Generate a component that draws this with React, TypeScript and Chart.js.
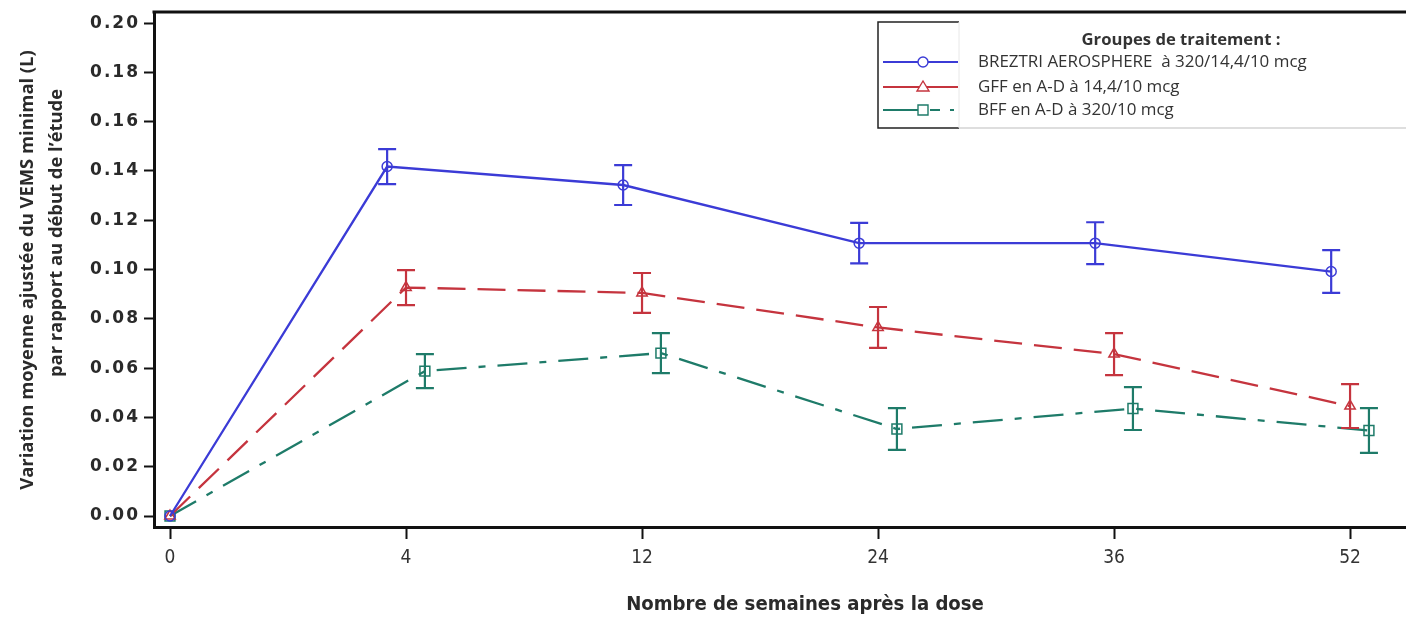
import React, { useEffect, useRef } from 'react';
import { Chart, registerables, LinearScale } from 'chart.js';

// ---------- DATA ----------
const weekLabels = ['0', '4', '12', '24', '36', '52'];
const yTickValues = [0, 0.02, 0.04, 0.06, 0.08, 0.1, 0.12, 0.14, 0.16, 0.18, 0.2];

const seriesNames = [
  'BREZTRI AEROSPHERE  à 320/14,4/10 mcg',
  'GFF en A-D à 14,4/10 mcg',
  'BFF en A-D à 320/10 mcg',
];
const legendTitle = 'Groupes de traitement :';
const yTitleLine1 = 'Variation moyenne ajustée du VEMS minimal (L)';
const yTitleLine2 = 'par rapport au début de l\u2019étude';
const xTitle = 'Nombre de semaines après la dose';

const breztriMean = [0, 0.1418, 0.1343, 0.1107, 0.1107, 0.0992];
const breztriErr = [0, 0.0071, 0.0081, 0.0082, 0.0085, 0.0087];
const gffMean = [0, 0.0927, 0.0905, 0.0765, 0.0657, 0.0446];
const gffErr = [0, 0.0071, 0.0081, 0.0083, 0.0085, 0.0089];
const bffMean = [0, 0.0588, 0.0661, 0.0353, 0.0436, 0.0347];
const bffErr = [0, 0.0069, 0.0081, 0.0085, 0.0087, 0.0091];

// ---------- STYLE ----------
const BLUE = '#3b3bd6';
const RED = '#c5343e';
const GREEN = '#1e7b69';
const seriesColors = [BLUE, RED, GREEN];
const seriesOffsets = [-0.08, 0, 0.08];
const seriesDashes: number[][] = [[], [28, 12], [30, 12, 7, 12]];
const seriesPointStyles = ['circle', 'triangle', 'rect'];
const seriesPointRadius = [5, 6, 7];
const seriesMeans = [breztriMean, gffMean, bffMean];
const seriesErrs = [breztriErr, gffErr, bffErr];

const Y_MIN = -0.00446;
const Y_MAX = 0.2045;
const X_MIN = -0.0678;
const X_MAX = 5.237;

class SpacedLinearScale extends LinearScale {
  static id = 'spacedLinear';
  drawLabels(area: any) {
    const ctx: any = this.ctx;
    const prev = ctx.letterSpacing;
    ctx.letterSpacing = '2px';
    super.drawLabels(area);
    ctx.letterSpacing = prev || '0px';
  }
}

Chart.register(...registerables, SpacedLinearScale as any);

function fitSize(ctx: CanvasRenderingContext2D, text: string, weight: string, family: string, target: number) {
  ctx.font = `${weight} 100px ${family}`;
  const w = ctx.measureText(text).width;
  return (100 * target) / w;
}

const TITLE_FAMILY = "'Open Sans', 'DejaVu Sans', sans-serif";
const NARROW_FAMILY = "'Liberation Sans Narrow', 'DejaVu Sans Condensed', 'Liberation Sans', sans-serif";

const decorPlugin = {
  id: 'decor',
  afterDatasetsDraw(chart: any) {
    const ctx: CanvasRenderingContext2D = chart.ctx;
    const yScale = chart.scales.y;
    ctx.save();
    ctx.setLineDash([]);
    chart.data.datasets.forEach((ds: any, i: number) => {
      const meta = chart.getDatasetMeta(i);
      ctx.strokeStyle = ds.borderColor;
      ctx.lineWidth = 2.2;
      ds.errors.forEach((e: number, j: number) => {
        if (!e) return;
        const pt = meta.data[j];
        const v = ds.data[j].y;
        const yHi = yScale.getPixelForValue(v + e);
        const yLo = yScale.getPixelForValue(v - e);
        const x = pt.x;
        ctx.beginPath();
        ctx.moveTo(x, yHi);
        ctx.lineTo(x, yLo);
        ctx.moveTo(x - 9, yHi);
        ctx.lineTo(x + 9, yHi);
        ctx.moveTo(x - 9, yLo);
        ctx.lineTo(x + 9, yLo);
        ctx.stroke();
      });
    });
    ctx.restore();
  },
  afterDraw(chart: any) {
    const ctx: CanvasRenderingContext2D = chart.ctx;
    const area = chart.chartArea;
    ctx.save();
    ctx.setLineDash([]);

    // top frame line
    ctx.strokeStyle = '#111';
    ctx.lineWidth = 3;
    ctx.beginPath();
    ctx.moveTo(area.left - 1.5, area.top);
    ctx.lineTo(area.right, area.top);
    ctx.stroke();

    // Y title (two lines)
    ctx.fillStyle = '#2a2a2a';
    ctx.textAlign = 'center';
    ctx.textBaseline = 'middle';
    const ySize = fitSize(ctx, yTitleLine1, '700', TITLE_FAMILY, 440);
    ctx.font = `700 ${ySize}px ${TITLE_FAMILY}`;
    ctx.save();
    ctx.translate(28, 270);
    ctx.rotate(-Math.PI / 2);
    ctx.fillText(yTitleLine1, 0, 0);
    ctx.restore();
    ctx.save();
    ctx.translate(57, 233);
    ctx.rotate(-Math.PI / 2);
    ctx.fillText(yTitleLine2, 0, 0);
    ctx.restore();

    // X title
    const xSize = fitSize(ctx, xTitle, '700', NARROW_FAMILY, 358);
    ctx.font = `700 ${xSize}px ${NARROW_FAMILY}`;
    ctx.fillText(xTitle, 805, 605);

    // Legend frame
    const lx = 878, ltop = 22, lbot = 128, lsplit = 959;
    ctx.strokeStyle = '#222';
    ctx.lineWidth = 1.5;
    ctx.beginPath();
    ctx.moveTo(lsplit, ltop);
    ctx.lineTo(lx, ltop);
    ctx.lineTo(lx, lbot);
    ctx.lineTo(lsplit, lbot);
    ctx.stroke();
    ctx.strokeStyle = '#bdbdbd';
    ctx.lineWidth = 1.2;
    ctx.beginPath();
    ctx.moveTo(lsplit, lbot);
    ctx.lineTo(1406, lbot);
    ctx.stroke();
    ctx.strokeStyle = '#e8e8e8';
    ctx.lineWidth = 1;
    ctx.beginPath();
    ctx.moveTo(lsplit, ltop);
    ctx.lineTo(lsplit, lbot);
    ctx.stroke();

    // Legend title
    ctx.fillStyle = '#333';
    const ltSize = fitSize(ctx, legendTitle, '700', TITLE_FAMILY, 199);
    ctx.font = `700 ${ltSize}px ${TITLE_FAMILY}`;
    ctx.textAlign = 'center';
    ctx.fillText(legendTitle, 1181, 40);

    // Legend items
    const itemSize = fitSize(ctx, seriesNames[0], '400', TITLE_FAMILY, 329);
    const rows = [62, 87, 110];
    seriesNames.forEach((name, i) => {
      const y = rows[i];
      const c = seriesColors[i];
      ctx.strokeStyle = c;
      ctx.lineWidth = 1.8;
      ctx.beginPath();
      if (i < 2) {
        ctx.moveTo(883, y);
        ctx.lineTo(958, y);
      } else {
        ctx.moveTo(883, y);
        ctx.lineTo(918, y);
        ctx.moveTo(930, y);
        ctx.lineTo(940, y);
        ctx.moveTo(950, y);
        ctx.lineTo(954, y);
      }
      ctx.stroke();
      ctx.lineWidth = 1.4;
      ctx.fillStyle = '#fff';
      ctx.beginPath();
      if (i === 0) {
        ctx.arc(923, y, 5, 0, Math.PI * 2);
      } else if (i === 1) {
        ctx.moveTo(923, y - 6);
        ctx.lineTo(929, y + 4);
        ctx.lineTo(917, y + 4);
        ctx.closePath();
      } else {
        ctx.rect(918, y - 5, 10, 10);
      }
      ctx.fill();
      ctx.stroke();
      ctx.fillStyle = '#333';
      ctx.font = `400 ${itemSize}px ${TITLE_FAMILY}`;
      ctx.textAlign = 'left';
      ctx.fillText(name, 978, y);
    });

    ctx.restore();
  },
};

export default function App() {
  const canvasRef = useRef<HTMLCanvasElement | null>(null);

  useEffect(() => {
    if (!canvasRef.current) return;
    const datasets = seriesNames.map((name, s) => ({
      label: name,
      data: seriesMeans[s].map((v, i) => ({ x: i + (i > 0 ? seriesOffsets[s] : 0), y: v })),
      errors: seriesErrs[s],
      borderColor: seriesColors[s],
      borderWidth: 2.3,
      borderDash: seriesDashes[s],
      pointStyle: seriesPointStyles[s],
      pointRadius: seriesPointRadius[s],
      pointBorderColor: seriesColors[s],
      pointBackgroundColor: 'rgba(255,255,255,0)',
      pointBorderWidth: 1.5,
      tension: 0,
      fill: false,
    }));

    const chart = new Chart(canvasRef.current, {
      type: 'line',
      data: { datasets } as any,
      options: {
        responsive: false,
        animation: false,
        devicePixelRatio: 1,
        layout: { autoPadding: false, padding: { top: 12, left: 0, right: 0, bottom: 0 } },
        plugins: { legend: { display: false }, tooltip: { enabled: false } },
        scales: {
          x: {
            type: 'linear',
            min: X_MIN,
            max: X_MAX,
            afterBuildTicks: (s: any) => {
              s.ticks = weekLabels.map((_, i) => ({ value: i }));
            },
            afterFit: (s: any) => {
              s.height = 91;
              s.paddingLeft = 0;
              s.paddingRight = 0;
            },
            grid: { drawOnChartArea: false, drawTicks: true, tickLength: 12, tickWidth: 2, tickColor: '#111' },
            border: { display: true, color: '#111', width: 3 },
            ticks: {
              autoSkip: false,
              maxRotation: 0,
              padding: 8,
              color: '#333',
              font: { family: NARROW_FAMILY, size: 19, weight: 'normal' },
              callback: (v: any) => weekLabels[Math.round(Number(v))] ?? '',
            },
          },
          y: {
            type: 'spacedLinear' as any,
            min: Y_MIN,
            max: Y_MAX,
            afterBuildTicks: (s: any) => {
              s.ticks = yTickValues.map((v) => ({ value: v }));
            },
            afterFit: (s: any) => {
              s.width = 154;
              s.paddingTop = 0;
              s.paddingBottom = 0;
            },
            grid: { drawOnChartArea: false, drawTicks: true, tickLength: 10, tickWidth: 2, tickColor: '#111' },
            border: { display: true, color: '#111', width: 3 },
            ticks: {
              autoSkip: false,
              padding: 4,
              color: '#2a2a2a',
              font: { family: "'DejaVu Sans', sans-serif", size: 17, weight: 'bold' },
              callback: (v: any) => Number(v).toFixed(2),
            },
          },
        },
      } as any,
      plugins: [decorPlugin],
    });
    return () => chart.destroy();
  }, []);

  return (
    <div style={{ position: 'fixed', left: 0, top: 0, width: 1406, height: 618, background: '#fff' }}>
      <canvas ref={canvasRef} width={1406} height={618} style={{ display: 'block' }} />
    </div>
  );
}
